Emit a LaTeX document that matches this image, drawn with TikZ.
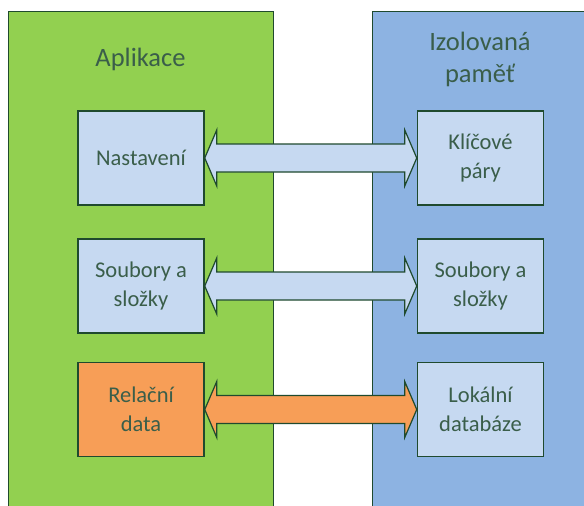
\documentclass[tikz,border=0pt]{standalone}
\usepackage{fontspec}
\setmainfont{Carlito}
\usetikzlibrary{calc}
\definecolor{pgreen}{HTML}{92D050}
\definecolor{pblue}{HTML}{8DB3E2}
\definecolor{lbox}{HTML}{C6D9F1}
\definecolor{obox}{HTML}{F79E57}
\definecolor{edge}{HTML}{1F4A2E}
\definecolor{txt}{HTML}{3A5E4A}
\tikzset{
  panel/.style={draw=edge, line width=1pt},
  itembox/.style={draw=edge, line width=1.5pt, fill=lbox, minimum width=126pt, minimum height=94pt,
    text=txt, align=center, font=\fontsize{22.5}{28.5}\selectfont, inner sep=0pt},
  title/.style={text=txt, align=center, font=\fontsize{26.5}{32}\selectfont},
  dblarrow/.style={draw=edge, line width=1.2pt, line join=miter, fill=lbox}
}
\newcommand{\dblarr}[3]{%
  \path[dblarrow,#3] (#1.east)
    -- ($(#1.east)+(12,-28)$) -- ($(#1.east)+(12,-14)$)
    -- ($(#2.west)+(-12,-14)$) -- ($(#2.west)+(-12,-28)$)
    -- (#2.west)
    -- ($(#2.west)+(-12,28)$) -- ($(#2.west)+(-12,14)$)
    -- ($(#1.east)+(12,14)$) -- ($(#1.east)+(12,28)$) -- cycle;}
\begin{document}
\begin{tikzpicture}[x=1pt,y=-1pt]
\useasboundingbox (0,0) rectangle (584,506);
\fill[white] (0,0) rectangle (584,506);
\fill[pgreen] (8,11) rectangle (273,520);
\fill[pblue] (372,11) rectangle (600,520);
\draw[panel] (8,520) -- (8,11) -- (273,11) -- (273,520);
\draw[panel] (372,520) -- (372,11) -- (600,11);
\node[title] (tapp) at (140.5,59) {Aplikace};
\node[title] (tmem) at (480,59) {Izolovaná\\paměť};
\node[itembox] (a1) at (141,158) {Nastavení};
\node[itembox] (a2) at (141,286) {Soubory a\\složky};
\node[itembox, fill=obox] (a3) at (141,409.5) {Relační\\data};
\node[itembox] (b1) at (480.5,158) {Klíčové\\páry};
\node[itembox] (b2) at (480.5,286) {Soubory a\\složky};
\node[itembox] (b3) at (480.5,409.5) {Lokální\\databáze};
\dblarr{a1}{b1}{}
\dblarr{a2}{b2}{}
\dblarr{a3}{b3}{fill=obox}
\end{tikzpicture}
\end{document}
